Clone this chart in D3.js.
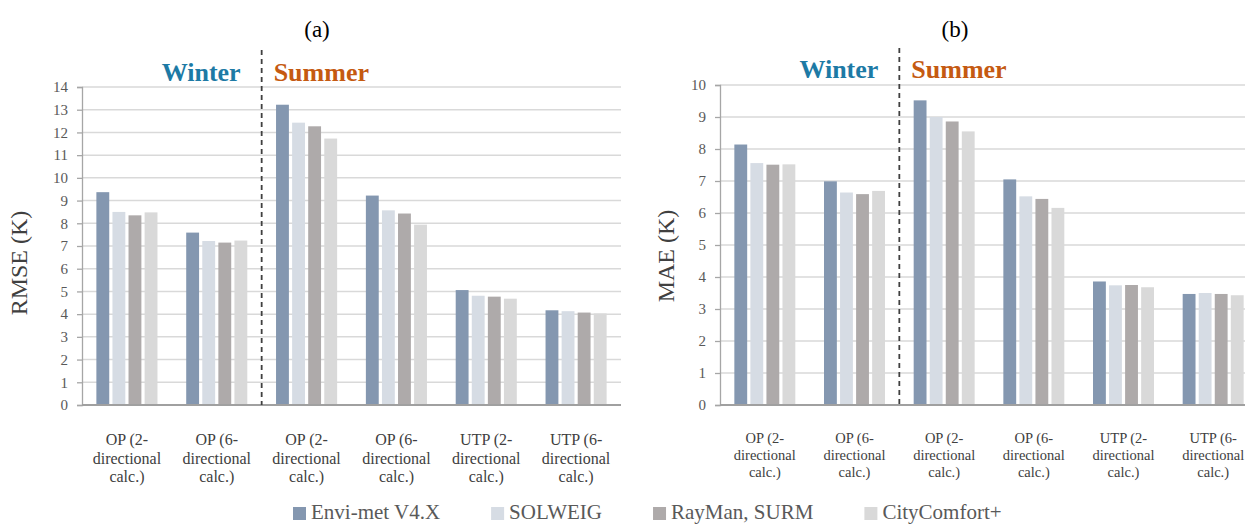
<!DOCTYPE html>
<html lang="en">
<head>
  <meta charset="UTF-8">
  <title>RMSE / MAE</title>
  <script src="https://d3js.org/d3.v7.min.js"></script>
  <style>
    body { margin: 0; background: #fff; }
    text { font-family: "Liberation Serif", "Times New Roman", Times, serif; }
  </style>
</head>
<body>
  <div id="root"></div>
  <script>
    // categories and series
    const categories = ['OP2', 'OP6', 'OP2s', 'OP6s', 'UTP2', 'UTP6']
    const xLabels = [
      ['OP (2-', 'directional', 'calc.)'],
      ['OP (6-', 'directional', 'calc.)'],
      ['OP (2-', 'directional', 'calc.)'],
      ['OP (6-', 'directional', 'calc.)'],
      ['UTP (2-', 'directional', 'calc.)'],
      ['UTP (6-', 'directional', 'calc.)']
    ]
    const seriesNames = ['Envi-met V4.X', 'SOLWEIG', 'RayMan, SURM', 'CityComfort+']
    const colors = ['#8497b0', '#d6dce4', '#aeaaaa', '#d9d9d9']

    // (a) RMSE
    const rmseEnvi = [9.37, 7.59, 13.22, 9.22, 5.06, 4.17]
    const rmseSolweig = [8.50, 7.22, 12.43, 8.57, 4.81, 4.13]
    const rmseRayman = [8.35, 7.15, 12.27, 8.43, 4.77, 4.07]
    const rmseCity = [8.48, 7.24, 11.73, 7.94, 4.68, 4.03]
    const rmseTicks = d3.range(0, 15)

    // (b) MAE
    const maeEnvi = [8.14, 6.99, 9.52, 7.05, 3.86, 3.47]
    const maeSolweig = [7.56, 6.64, 9.00, 6.52, 3.74, 3.50]
    const maeRayman = [7.51, 6.59, 8.86, 6.44, 3.75, 3.47]
    const maeCity = [7.52, 6.69, 8.55, 6.16, 3.68, 3.43]
    const maeTicks = d3.range(0, 11)

    const svg = d3.select('#root')
      .append('svg')
      .attr('width', 1245)
      .attr('height', 524)
      .style('display', 'block')
      .style('background', '#fff')

    function drawChart(cfg) {
      const series = [cfg.envi, cfg.solweig, cfg.rayman, cfg.city]
      const x0 = d3.scaleBand()
        .domain(categories)
        .range([cfg.left, cfg.right])
        .paddingInner(0.32)
        .paddingOuter(0.16)
      const x1 = d3.scaleBand()
        .domain(d3.range(4))
        .range([0, x0.bandwidth()])
        .paddingInner(0.2)
      const y = d3.scaleLinear()
        .domain([0, d3.max(cfg.ticks)])
        .range([cfg.bottom, cfg.top])

      const g = svg.append('g')

      // grid
      g.selectAll('.grid')
        .data(cfg.ticks.slice(1))
        .join('line')
        .attr('x1', cfg.left).attr('x2', cfg.right)
        .attr('y1', d => y(d)).attr('y2', d => y(d))
        .attr('stroke', '#d9d9d9')
        .attr('stroke-width', 1.5)

      // bars
      series.forEach((vals, si) => {
        g.selectAll('.bar' + si)
          .data(vals)
          .join('rect')
          .attr('x', (d, i) => x0(categories[i]) + x1(si))
          .attr('width', x1.bandwidth())
          .attr('y', d => y(d))
          .attr('height', d => y(0) - y(d))
          .attr('fill', colors[si])
      })

      // y axis
      const yAxis = g.append('g')
        .attr('transform', `translate(${cfg.left},0)`)
        .call(d3.axisLeft(y).tickValues(cfg.ticks).tickSize(5).tickPadding(9))
      yAxis.select('.domain').attr('stroke', '#a6a6a6').attr('stroke-width', 1.3)
      yAxis.selectAll('.tick line').attr('stroke', '#a6a6a6').attr('stroke-width', 1.3)
      yAxis.selectAll('.tick text')
        .attr('fill', '#595959')
        .style('font-size', '15px')
        .style('font-family', '"Liberation Serif", serif')

      // baseline
      g.append('line')
        .attr('x1', cfg.left).attr('x2', cfg.right)
        .attr('y1', y(0)).attr('y2', y(0))
        .attr('stroke', '#a0a0a0')
        .attr('stroke-width', 1.8)

      // x labels
      const lab = g.selectAll('.xlab')
        .data(xLabels)
        .join('text')
        .attr('text-anchor', 'middle')
        .attr('fill', '#404040')
        .style('font-size', cfg.xlabSize + 'px')
      lab.selectAll('tspan')
        .data((d, i) => d.map(t => ({ t, i })))
        .join('tspan')
        .attr('x', d => x0(categories[d.i]) + x0.bandwidth() / 2)
        .attr('y', (d, j) => y(0) + cfg.xlabTop + j * cfg.xlabGap)
        .text(d => d.t)

      // season divider
      const divX = x0(categories[2]) - x0.step() * x0.paddingInner() / 2
      g.append('line')
        .attr('x1', divX).attr('x2', divX)
        .attr('y1', cfg.divTop).attr('y2', y(0))
        .attr('stroke', '#404040')
        .attr('stroke-width', 1.8)
        .attr('stroke-dasharray', '5,4')

      g.append('text')
        .attr('x', divX - 21).attr('y', cfg.seasonY)
        .attr('text-anchor', 'end')
        .attr('fill', '#1d7aa5')
        .style('font-size', '26px')
        .style('font-weight', 'bold')
        .text('Winter')
      g.append('text')
        .attr('x', divX + 12).attr('y', cfg.seasonY)
        .attr('fill', '#c55a11')
        .style('font-size', '26px')
        .style('font-weight', 'bold')
        .text('Summer')

      // panel title
      g.append('text')
        .attr('x', cfg.left + 235).attr('y', 37)
        .attr('text-anchor', 'middle')
        .attr('fill', '#000')
        .style('font-size', '23px')
        .text(cfg.title)

      // y label
      g.append('text')
        .attr('transform', `translate(${cfg.ylabX},${cfg.ylabY}) rotate(-90)`)
        .attr('text-anchor', 'middle')
        .attr('fill', '#404040')
        .style('font-size', '24px')
        .text(cfg.ylabel)
    }

    drawChart({
      envi: rmseEnvi, solweig: rmseSolweig, rayman: rmseRayman, city: rmseCity,
      ticks: rmseTicks, left: 82, right: 621, top: 87, bottom: 405,
      xlabSize: 16, xlabTop: 40, xlabGap: 18.5,
      divTop: 50, seasonY: 81, title: '(a)', ylabel: 'RMSE (K)', ylabX: 27, ylabY: 263
    })
    drawChart({
      envi: maeEnvi, solweig: maeSolweig, rayman: maeRayman, city: maeCity,
      ticks: maeTicks, left: 720, right: 1258, top: 85, bottom: 405,
      xlabSize: 14.5, xlabTop: 38, xlabGap: 17,
      divTop: 48, seasonY: 78, title: '(b)', ylabel: 'MAE (K)', ylabX: 674, ylabY: 256
    })

    // legend
    const legend = svg.append('g')
    let lx = 293
    seriesNames.forEach((name, i) => {
      legend.append('rect')
        .attr('x', lx).attr('y', 507)
        .attr('width', 13).attr('height', 13)
        .attr('fill', colors[i])
      const t = legend.append('text')
        .attr('x', lx + 18).attr('y', 519)
        .attr('fill', '#595959')
        .style('font-size', '21px')
        .text(name)
      lx += 18 + t.node().getComputedTextLength() + 51
    })
  </script>
</body>
</html>
